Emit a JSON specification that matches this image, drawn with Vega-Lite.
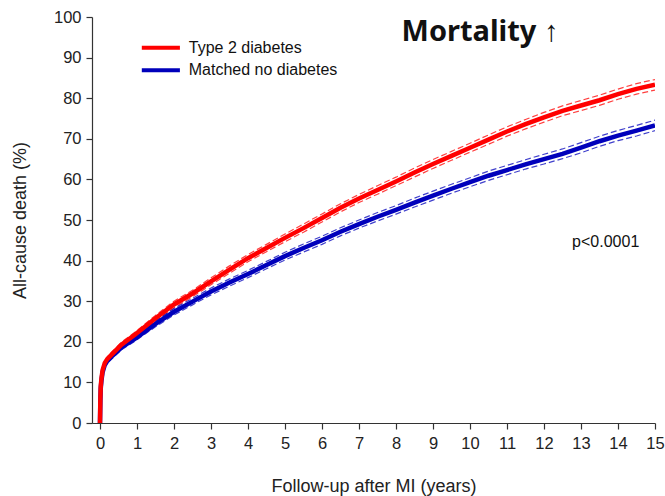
{
  "$schema": "https://vega.github.io/schema/vega-lite/v6.json",
  "width": 563,
  "height": 406,
  "autosize": {"type": "none"},
  "padding": {"left": 92, "top": 17, "right": 10, "bottom": 73},
  "background": "white",
  "config": {
    "view": {"stroke": null},
    "font": "Liberation Sans",
    "axis": {"grid": false, "domainColor": "#333333", "tickColor": "#333333", "labelColor": "#222222", "titleColor": "#222222", "labelFont": "Liberation Sans", "titleFont": "Liberation Sans", "labelFontSize": 16.5, "titleFontSize": 18, "titleFontWeight": "normal", "tickSize": 6, "domainWidth": 1.2, "tickWidth": 1.2, "labelOverlap": false, "labelBound": false, "labelFlush": false}
  },
  "datasets": {
    "km": [
      {"g": "Matched no diabetes", "t": 0, "y": 0, "lo": 0, "hi": 0},
      {"g": "Matched no diabetes", "t": 0.01, "y": 5.5, "lo": 5.1, "hi": 5.9},
      {"g": "Matched no diabetes", "t": 0.02, "y": 8.5, "lo": 8.1, "hi": 8.9},
      {"g": "Matched no diabetes", "t": 0.04, "y": 10.5, "lo": 10.0, "hi": 11.0},
      {"g": "Matched no diabetes", "t": 0.07, "y": 12.5, "lo": 12.0, "hi": 13.0},
      {"g": "Matched no diabetes", "t": 0.13, "y": 14.3, "lo": 13.8, "hi": 14.8},
      {"g": "Matched no diabetes", "t": 0.2, "y": 15.3, "lo": 14.8, "hi": 15.8},
      {"g": "Matched no diabetes", "t": 0.32, "y": 16.4, "lo": 15.8, "hi": 17.0},
      {"g": "Matched no diabetes", "t": 0.58, "y": 18.6, "lo": 18.0, "hi": 19.2},
      {"g": "Matched no diabetes", "t": 0.95, "y": 20.8, "lo": 20.2, "hi": 21.4},
      {"g": "Matched no diabetes", "t": 1.5, "y": 24.4, "lo": 23.7, "hi": 25.1},
      {"g": "Matched no diabetes", "t": 2, "y": 27.4, "lo": 26.6, "hi": 28.2},
      {"g": "Matched no diabetes", "t": 2.5, "y": 29.9, "lo": 29.1, "hi": 30.7},
      {"g": "Matched no diabetes", "t": 3, "y": 32.4, "lo": 31.55, "hi": 33.25},
      {"g": "Matched no diabetes", "t": 3.5, "y": 34.6, "lo": 33.7, "hi": 35.5},
      {"g": "Matched no diabetes", "t": 4, "y": 36.7, "lo": 35.8, "hi": 37.6},
      {"g": "Matched no diabetes", "t": 4.5, "y": 38.9, "lo": 38.0, "hi": 39.8},
      {"g": "Matched no diabetes", "t": 5, "y": 41.1, "lo": 40.15, "hi": 42.05},
      {"g": "Matched no diabetes", "t": 5.5, "y": 43.1, "lo": 42.1, "hi": 44.1},
      {"g": "Matched no diabetes", "t": 6, "y": 45.0, "lo": 44.0, "hi": 46.0},
      {"g": "Matched no diabetes", "t": 6.5, "y": 47.1, "lo": 46.1, "hi": 48.1},
      {"g": "Matched no diabetes", "t": 7, "y": 49.0, "lo": 48.0, "hi": 50.0},
      {"g": "Matched no diabetes", "t": 7.5, "y": 50.8, "lo": 49.75, "hi": 51.85},
      {"g": "Matched no diabetes", "t": 8, "y": 52.5, "lo": 51.45, "hi": 53.55},
      {"g": "Matched no diabetes", "t": 8.5, "y": 54.3, "lo": 53.2, "hi": 55.4},
      {"g": "Matched no diabetes", "t": 9, "y": 56.0, "lo": 54.9, "hi": 57.1},
      {"g": "Matched no diabetes", "t": 9.5, "y": 57.7, "lo": 56.6, "hi": 58.8},
      {"g": "Matched no diabetes", "t": 10, "y": 59.3, "lo": 58.2, "hi": 60.4},
      {"g": "Matched no diabetes", "t": 10.5, "y": 60.9, "lo": 59.75, "hi": 62.05},
      {"g": "Matched no diabetes", "t": 11, "y": 62.3, "lo": 61.15, "hi": 63.45},
      {"g": "Matched no diabetes", "t": 11.5, "y": 63.7, "lo": 62.55, "hi": 64.85},
      {"g": "Matched no diabetes", "t": 12, "y": 65.0, "lo": 63.8, "hi": 66.2},
      {"g": "Matched no diabetes", "t": 12.5, "y": 66.3, "lo": 65.1, "hi": 67.5},
      {"g": "Matched no diabetes", "t": 13, "y": 67.8, "lo": 66.55, "hi": 69.05},
      {"g": "Matched no diabetes", "t": 13.5, "y": 69.4, "lo": 68.15, "hi": 70.65},
      {"g": "Matched no diabetes", "t": 14, "y": 70.8, "lo": 69.55, "hi": 72.05},
      {"g": "Matched no diabetes", "t": 14.5, "y": 72.0, "lo": 70.7, "hi": 73.3},
      {"g": "Matched no diabetes", "t": 15, "y": 73.3, "lo": 72.0, "hi": 74.6},
      {"g": "Type 2 diabetes", "t": 0, "y": 0, "lo": 0, "hi": 0},
      {"g": "Type 2 diabetes", "t": 0.01, "y": 6, "lo": 5.6, "hi": 6.4},
      {"g": "Type 2 diabetes", "t": 0.02, "y": 9, "lo": 8.6, "hi": 9.4},
      {"g": "Type 2 diabetes", "t": 0.04, "y": 11, "lo": 10.5, "hi": 11.5},
      {"g": "Type 2 diabetes", "t": 0.07, "y": 13, "lo": 12.5, "hi": 13.5},
      {"g": "Type 2 diabetes", "t": 0.13, "y": 14.8, "lo": 14.3, "hi": 15.3},
      {"g": "Type 2 diabetes", "t": 0.2, "y": 15.8, "lo": 15.3, "hi": 16.3},
      {"g": "Type 2 diabetes", "t": 0.32, "y": 16.9, "lo": 16.3, "hi": 17.5},
      {"g": "Type 2 diabetes", "t": 0.58, "y": 19.3, "lo": 18.7, "hi": 19.9},
      {"g": "Type 2 diabetes", "t": 0.95, "y": 21.8, "lo": 21.2, "hi": 22.4},
      {"g": "Type 2 diabetes", "t": 1.5, "y": 25.8, "lo": 25.1, "hi": 26.5},
      {"g": "Type 2 diabetes", "t": 2, "y": 29.2, "lo": 28.4, "hi": 30.0},
      {"g": "Type 2 diabetes", "t": 2.5, "y": 31.9, "lo": 31.1, "hi": 32.7},
      {"g": "Type 2 diabetes", "t": 3, "y": 34.9, "lo": 34.05, "hi": 35.75},
      {"g": "Type 2 diabetes", "t": 3.5, "y": 37.8, "lo": 36.9, "hi": 38.7},
      {"g": "Type 2 diabetes", "t": 4, "y": 40.6, "lo": 39.7, "hi": 41.5},
      {"g": "Type 2 diabetes", "t": 4.5, "y": 43.1, "lo": 42.2, "hi": 44.0},
      {"g": "Type 2 diabetes", "t": 5, "y": 45.6, "lo": 44.65, "hi": 46.55},
      {"g": "Type 2 diabetes", "t": 5.5, "y": 48.0, "lo": 47.0, "hi": 49.0},
      {"g": "Type 2 diabetes", "t": 6, "y": 50.5, "lo": 49.5, "hi": 51.5},
      {"g": "Type 2 diabetes", "t": 6.5, "y": 53.0, "lo": 52.0, "hi": 54.0},
      {"g": "Type 2 diabetes", "t": 7, "y": 55.3, "lo": 54.3, "hi": 56.3},
      {"g": "Type 2 diabetes", "t": 7.5, "y": 57.4, "lo": 56.35, "hi": 58.45},
      {"g": "Type 2 diabetes", "t": 8, "y": 59.5, "lo": 58.45, "hi": 60.55},
      {"g": "Type 2 diabetes", "t": 8.5, "y": 61.7, "lo": 60.6, "hi": 62.8},
      {"g": "Type 2 diabetes", "t": 9, "y": 63.8, "lo": 62.7, "hi": 64.9},
      {"g": "Type 2 diabetes", "t": 9.5, "y": 65.8, "lo": 64.7, "hi": 66.9},
      {"g": "Type 2 diabetes", "t": 10, "y": 67.8, "lo": 66.7, "hi": 68.9},
      {"g": "Type 2 diabetes", "t": 10.5, "y": 69.8, "lo": 68.65, "hi": 70.95},
      {"g": "Type 2 diabetes", "t": 11, "y": 71.8, "lo": 70.65, "hi": 72.95},
      {"g": "Type 2 diabetes", "t": 11.5, "y": 73.6, "lo": 72.45, "hi": 74.75},
      {"g": "Type 2 diabetes", "t": 12, "y": 75.3, "lo": 74.1, "hi": 76.5},
      {"g": "Type 2 diabetes", "t": 12.5, "y": 76.9, "lo": 75.7, "hi": 78.1},
      {"g": "Type 2 diabetes", "t": 13, "y": 78.2, "lo": 76.95, "hi": 79.45},
      {"g": "Type 2 diabetes", "t": 13.5, "y": 79.5, "lo": 78.25, "hi": 80.75},
      {"g": "Type 2 diabetes", "t": 14, "y": 81.0, "lo": 79.75, "hi": 82.25},
      {"g": "Type 2 diabetes", "t": 14.5, "y": 82.3, "lo": 81.0, "hi": 83.6},
      {"g": "Type 2 diabetes", "t": 15, "y": 83.3, "lo": 82.0, "hi": 84.6}
    ],
    "leg": [
      {"g": "Type 2 diabetes", "x1": 1.13, "x2": 2.16, "y": 92.4, "tx": 2.4},
      {"g": "Matched no diabetes", "x1": 1.13, "x2": 2.16, "y": 86.9, "tx": 2.4}
    ],
    "ann": [
      {"label": "Mortality ↑", "x": 8.15, "y": 96.3, "kind": "title"},
      {"label": "p<0.0001", "x": 12.76, "y": 44.6, "kind": "p"}
    ]
  },
  "layer": [
    {
      "data": {"name": "km"},
      "mark": {"type": "line", "strokeWidth": 1.2, "strokeDash": [6, 3], "opacity": 0.75, "clip": true},
      "encoding": {
        "x": {"field": "t", "type": "quantitative", "scale": {"domain": [-0.216, 15], "nice": false, "zero": false}, "axis": {"values": [0,1,2,3,4,5,6,7,8,9,10,11,12,13,14,15], "title": "Follow-up after MI (years)", "labelPadding": 6, "titleY": 63, "titleBaseline": "middle", "labelOverlap": false}},
        "y": {"field": "lo", "type": "quantitative", "scale": {"domain": [0, 100], "nice": false}, "axis": {"values": [0,10,20,30,40,50,60,70,80,90,100], "title": "All-cause death (%)", "labelPadding": 5, "labelOverlap": false, "titleX": -72, "titleY": 203, "titleAlign": "center", "titleBaseline": "middle", "titleAngle": -90}},
        "color": {"field": "g", "type": "nominal", "scale": {"domain": ["Type 2 diabetes", "Matched no diabetes"], "range": ["#ff0000", "#0000bb"]}, "legend": null}
      }
    },
    {
      "data": {"name": "km"},
      "mark": {"type": "line", "strokeWidth": 1.2, "strokeDash": [6, 3], "opacity": 0.75, "clip": true},
      "encoding": {
        "x": {"field": "t", "type": "quantitative", "axis": {"values": [0,1,2,3,4,5,6,7,8,9,10,11,12,13,14,15], "title": "Follow-up after MI (years)", "labelPadding": 6, "titleY": 63, "titleBaseline": "middle", "labelOverlap": false}},
        "y": {"field": "hi", "type": "quantitative", "axis": {"values": [0,10,20,30,40,50,60,70,80,90,100], "title": "All-cause death (%)", "labelPadding": 5, "labelOverlap": false, "titleX": -72, "titleY": 203, "titleAlign": "center", "titleBaseline": "middle", "titleAngle": -90}},
        "color": {"field": "g", "type": "nominal"}
      }
    },
    {
      "data": {"name": "km"},
      "mark": {"type": "line", "strokeWidth": 4.5, "clip": true},
      "encoding": {
        "x": {"field": "t", "type": "quantitative", "axis": {"values": [0,1,2,3,4,5,6,7,8,9,10,11,12,13,14,15], "title": "Follow-up after MI (years)", "labelPadding": 6, "titleY": 63, "titleBaseline": "middle", "labelOverlap": false}},
        "y": {"field": "y", "type": "quantitative", "axis": {"values": [0,10,20,30,40,50,60,70,80,90,100], "title": "All-cause death (%)", "labelPadding": 5, "labelOverlap": false, "titleX": -72, "titleY": 203, "titleAlign": "center", "titleBaseline": "middle", "titleAngle": -90}},
        "color": {"field": "g", "type": "nominal"}
      }
    },
    {
      "data": {"name": "leg"},
      "mark": {"type": "rule", "strokeWidth": 4},
      "encoding": {
        "x": {"field": "x1", "type": "quantitative", "axis": {"values": [0,1,2,3,4,5,6,7,8,9,10,11,12,13,14,15], "title": "Follow-up after MI (years)", "labelPadding": 6, "titleY": 63, "titleBaseline": "middle", "labelOverlap": false}},
        "x2": {"field": "x2"},
        "y": {"field": "y", "type": "quantitative", "axis": {"values": [0,10,20,30,40,50,60,70,80,90,100], "title": "All-cause death (%)", "labelPadding": 5, "labelOverlap": false, "titleX": -72, "titleY": 203, "titleAlign": "center", "titleBaseline": "middle", "titleAngle": -90}},
        "color": {"field": "g", "type": "nominal"}
      }
    },
    {
      "data": {"name": "leg"},
      "mark": {"type": "text", "align": "left", "baseline": "middle", "fontSize": 16, "font": "Liberation Sans", "color": "#111111"},
      "encoding": {
        "x": {"field": "tx", "type": "quantitative", "axis": {"values": [0,1,2,3,4,5,6,7,8,9,10,11,12,13,14,15], "title": "Follow-up after MI (years)", "labelPadding": 6, "titleY": 63, "titleBaseline": "middle", "labelOverlap": false}},
        "y": {"field": "y", "type": "quantitative", "axis": {"values": [0,10,20,30,40,50,60,70,80,90,100], "title": "All-cause death (%)", "labelPadding": 5, "labelOverlap": false, "titleX": -72, "titleY": 203, "titleAlign": "center", "titleBaseline": "middle", "titleAngle": -90}},
        "text": {"field": "g"}
      }
    },
    {
      "data": {"name": "ann"},
      "transform": [{"filter": "datum.kind === 'title'"}],
      "mark": {"type": "text", "align": "left", "baseline": "middle", "fontSize": 29, "fontWeight": "bold", "font": "Noto Sans", "color": "#111111"},
      "encoding": {
        "x": {"field": "x", "type": "quantitative", "axis": {"values": [0,1,2,3,4,5,6,7,8,9,10,11,12,13,14,15], "title": "Follow-up after MI (years)", "labelPadding": 6, "titleY": 63, "titleBaseline": "middle", "labelOverlap": false}},
        "y": {"field": "y", "type": "quantitative", "axis": {"values": [0,10,20,30,40,50,60,70,80,90,100], "title": "All-cause death (%)", "labelPadding": 5, "labelOverlap": false, "titleX": -72, "titleY": 203, "titleAlign": "center", "titleBaseline": "middle", "titleAngle": -90}},
        "text": {"field": "label"}
      }
    },
    {
      "data": {"name": "ann"},
      "transform": [{"filter": "datum.kind === 'p'"}],
      "mark": {"type": "text", "align": "left", "baseline": "middle", "fontSize": 16, "font": "Liberation Sans", "color": "#111111"},
      "encoding": {
        "x": {"field": "x", "type": "quantitative", "axis": {"values": [0,1,2,3,4,5,6,7,8,9,10,11,12,13,14,15], "title": "Follow-up after MI (years)", "labelPadding": 6, "titleY": 63, "titleBaseline": "middle", "labelOverlap": false}},
        "y": {"field": "y", "type": "quantitative", "axis": {"values": [0,10,20,30,40,50,60,70,80,90,100], "title": "All-cause death (%)", "labelPadding": 5, "labelOverlap": false, "titleX": -72, "titleY": 203, "titleAlign": "center", "titleBaseline": "middle", "titleAngle": -90}},
        "text": {"field": "label"}
      }
    }
  ]
}
